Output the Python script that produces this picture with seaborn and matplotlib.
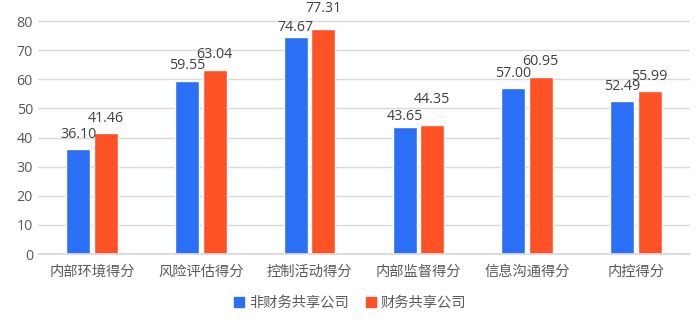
import matplotlib
matplotlib.use("Agg")
import matplotlib.pyplot as plt
import seaborn as sns
import pandas as pd

categories = ["内部环境得分", "风险评估得分", "控制活动得分", "内部监督得分", "信息沟通得分", "内控得分"]
series_names = ["非财务共享公司", "财务共享公司"]
non_shared = [36.10, 59.55, 74.67, 43.65, 57.00, 52.49]
shared = [41.46, 63.04, 77.31, 44.35, 60.95, 55.99]
yticks = [0, 10, 20, 30, 40, 50, 60, 70, 80]

# label padding (points) per bar, to mimic the reference's label placement
pad_non_shared = [5, 5.5, 1.5, 2, 5, 5.5]
pad_shared = [5.5, 6, 9, 13, 5.5, 5]

sns.set_theme(style="white")
plt.rcParams['font.family'] = ['Noto Sans CJK SC', 'DejaVu Sans']

df = pd.DataFrame({
    "cat": categories * 2,
    "series": [series_names[0]] * len(categories) + [series_names[1]] * len(categories),
    "val": non_shared + shared,
})

fig = plt.figure(figsize=(7, 3.27), dpi=100)
ax = fig.add_axes([0.054, 0.223, 0.932, 0.757])
palette = {series_names[0]: "#2B6FF7", series_names[1]: "#FF5126"}
sns.barplot(data=df, x="cat", y="val", hue="series", palette=palette,
            width=0.506, gap=0.13, ax=ax, saturation=1, legend=True)

for c, pads in zip(ax.containers, [pad_non_shared, pad_shared]):
    for bar, p in zip(c, pads):
        ax.annotate(f"{bar.get_height():.2f}",
                    (bar.get_x() + bar.get_width() / 2, bar.get_height()),
                    xytext=(0, p), textcoords="offset points",
                    ha="center", va="bottom", fontsize=10.3,
                    family=["Open Sans", "DejaVu Sans"], color="#404040")

ax.set_ylim(0, 85)
ax.set_yticks(yticks)
ax.set_xlim(-0.5, len(categories) - 0.5)
ax.yaxis.grid(True, color="#D9D9D9", linewidth=1)
ax.set_axisbelow(True)
for s in ["top", "right", "left"]:
    ax.spines[s].set_visible(False)
ax.spines["bottom"].set_color("#D9D9D9")
ax.tick_params(axis="both", length=0, colors="#595959")
ax.tick_params(axis="x", pad=8, labelsize=10.3)
ax.tick_params(axis="y", labelsize=10.3)
for t in ax.get_yticklabels():
    t.set_family(["Open Sans", "DejaVu Sans"])
ax.set_xlabel("")
ax.set_ylabel("")

ax.legend_.remove()
handles = [plt.Rectangle((0, 0), 1, 1, color=palette[n]) for n in series_names]
fig.legend(handles, series_names, loc="center", bbox_to_anchor=(0.5, 0.073), ncol=2,
           frameon=False, fontsize=10.3, handlelength=0.7, handleheight=0.7,
           handletextpad=0.3, columnspacing=1.2, labelcolor="#595959")

fig.savefig("out.png", dpi=100)
